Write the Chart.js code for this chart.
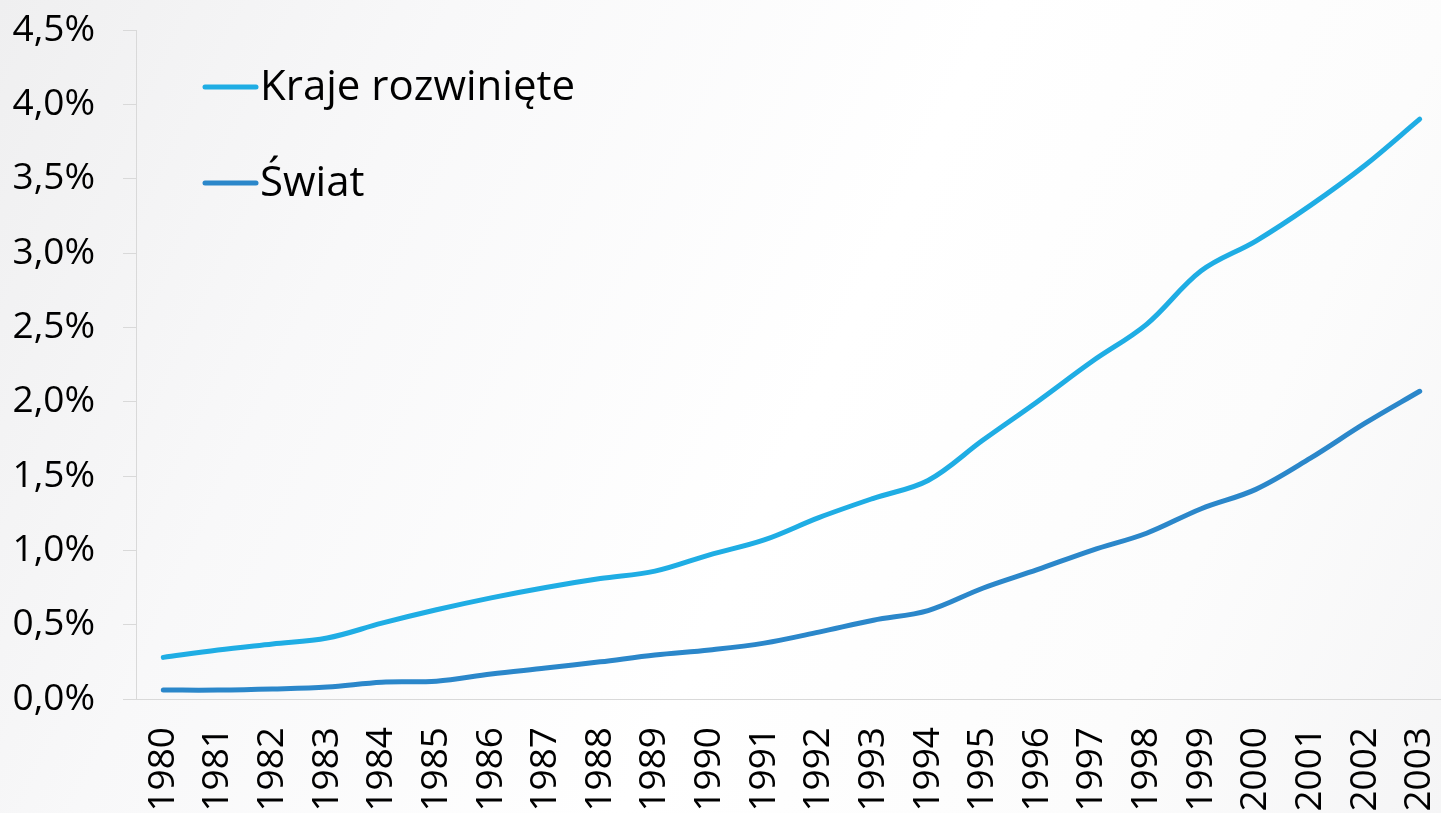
<!DOCTYPE html>
<html>
<head>
<meta charset="utf-8">
<script src="https://cdn.jsdelivr.net/npm/chart.js@4/dist/chart.umd.min.js"></script>
<style>
  html, body { margin: 0; padding: 0; overflow: hidden; width: 1441px; height: 813px; }
  body { background: linear-gradient(115deg, #efeff0 0%, #f8f8f9 25%, #ffffff 55%, #fcfcfc 80%, #f5f5f6 100%); }
  #wrap { position: absolute; left: 0; top: 0; width: 1447px; height: 813px; }
</style>
</head>
<body>
<div id="wrap"><canvas id="c"></canvas></div>
<script>
const categories = ['1980','1981','1982','1983','1984','1985','1986','1987','1988','1989','1990','1991','1992','1993','1994','1995','1996','1997','1998','1999','2000','2001','2002','2003'];
const seriesNames = ['Kraje rozwinięte', 'Świat'];
const krajeRozwiniete = [0.28,0.33,0.37,0.41,0.51,0.60,0.68,0.75,0.81,0.86,0.97,1.07,1.22,1.35,1.47,1.74,2.00,2.27,2.52,2.88,3.08,3.32,3.59,3.90];
const swiat = [0.06,0.06,0.067,0.08,0.113,0.12,0.168,0.208,0.25,0.296,0.33,0.376,0.45,0.53,0.595,0.745,0.87,1.00,1.115,1.28,1.41,1.62,1.855,2.07];
const yTicks = [0, 0.5, 1.0, 1.5, 2.0, 2.5, 3.0, 3.5, 4.0, 4.5];

const FONT = '"Open Sans", "Noto Sans", sans-serif';
const colors = ['#1FADE4', '#2B87CA'];

const legendPlugin = {
  id: 'insideLegend',
  afterDraw(chart) {
    const ctx = chart.ctx;
    const ys = [87, 183];
    ctx.save();
    chart.data.datasets.forEach((ds, i) => {
      const y = ys[i];
      ctx.strokeStyle = ds.borderColor;
      ctx.lineWidth = 5;
      ctx.lineCap = 'round';
      ctx.beginPath();
      ctx.moveTo(205, y);
      ctx.lineTo(256, y);
      ctx.stroke();
      ctx.fillStyle = '#000000';
      ctx.font = '42px ' + FONT;
      ctx.textBaseline = 'middle';
      ctx.textAlign = 'left';
      ctx.fillText(ds.label, 260, y + 1);
    });
    ctx.restore();
  }
};

new Chart(document.getElementById('c'), {
  type: 'line',
  data: {
    labels: categories,
    datasets: [
      { label: seriesNames[0], data: krajeRozwiniete, borderColor: colors[0], backgroundColor: colors[0], borderWidth: 5, pointRadius: 0, tension: 0.35, borderCapStyle: 'round', fill: false },
      { label: seriesNames[1], data: swiat, borderColor: colors[1], backgroundColor: colors[1], borderWidth: 5, pointRadius: 0, tension: 0.35, borderCapStyle: 'round', fill: false }
    ]
  },
  options: {
    responsive: true,
    maintainAspectRatio: false,
    animation: false,
    layout: { padding: { top: 30, left: 0, right: 0, bottom: 0 } },
    plugins: { legend: { display: false }, tooltip: { enabled: false } },
    scales: {
      x: {
        offset: true,
        grid: { display: false, drawTicks: false },
        border: { display: true, color: '#d9d9d9', width: 1 },
        ticks: { color: '#000', font: { family: FONT, size: 37 }, minRotation: 90, maxRotation: 90, padding: 28, autoSkip: false },
        afterFit(scale) { scale.height = 114; scale.paddingLeft = 0; scale.paddingRight = 0; }
      },
      y: {
        min: 0, max: 4.5,
        afterBuildTicks(scale) { scale.ticks = yTicks.map(v => ({ value: v })); },
        grid: { display: true, drawOnChartArea: false, drawTicks: true, tickLength: 13, color: '#d9d9d9' },
        border: { display: true, color: '#d9d9d9', width: 1 },
        ticks: {
          color: '#000', font: { family: FONT, size: 37 }, padding: 28,
          callback: (v) => v.toFixed(1).replace('.', ',') + '%'
        },
        afterFit(scale) { scale.width = 136; scale.paddingTop = 0; scale.paddingBottom = 0; }
      }
    }
  },
  plugins: [legendPlugin]
});
</script>
</body>
</html>
